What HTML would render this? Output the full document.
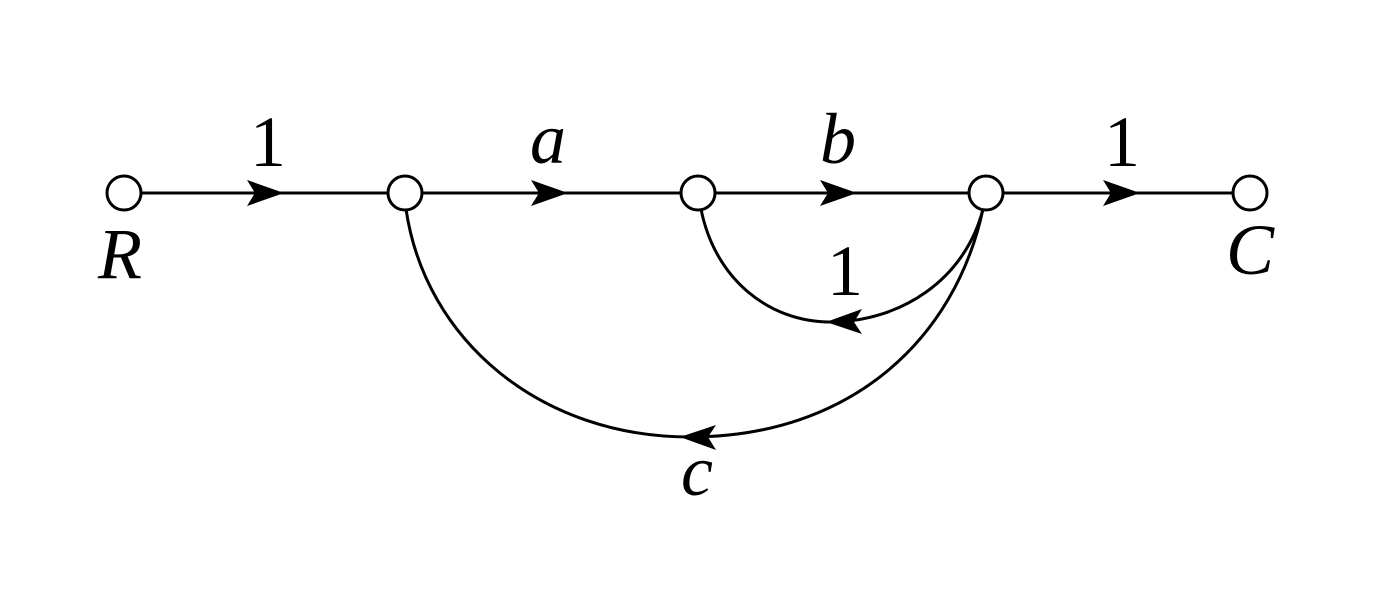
<!DOCTYPE html>
<html><head><style>body{margin:0;background:#fff}svg{display:block}
text{font-family:"Liberation Serif","DejaVu Serif",serif;font-size:72px}
.i{font-style:italic}</style></head><body>
<svg width="1385" height="594" viewBox="0 0 1385 594" xmlns="http://www.w3.org/2000/svg">
<g stroke="#000" stroke-width="3" fill="none">
<line x1="141" y1="193" x2="388" y2="193"/>
<line x1="422" y1="193" x2="681" y2="193"/>
<line x1="715" y1="193" x2="969" y2="193"/>
<line x1="1003" y1="193" x2="1233" y2="193"/>
<path d="M701,209 C715,280 770,322 830,322"/>
<path d="M983,209 C965,280 900,322 830,322"/>
<path d="M406,209 C425,340 540,437 690,437"/>
<path d="M983,209 C955,340 850,437 690,437"/>
<circle cx="124" cy="193" r="17" fill="#fff"/>
<circle cx="405" cy="193" r="17" fill="#fff"/>
<circle cx="698" cy="193" r="17" fill="#fff"/>
<circle cx="986" cy="193" r="17" fill="#fff"/>
<circle cx="1250" cy="193" r="17" fill="#fff"/>
</g>
<g fill="#000">
<path d="M284,193 L247,180 L255,193 L247,206 Z"/>
<path d="M568,193 L531,180 L539,193 L531,206 Z"/>
<path d="M857,193 L820,180 L828,193 L820,206 Z"/>
<path d="M1140,193 L1103,180 L1111,193 L1103,206 Z"/>
<path d="M826,322 L862,309 L854,322 L862,334 Z"/>
<path d="M680,437 L716,425 L708,437 L716,450 Z"/>
</g>
<g text-anchor="middle">
<text x="268" y="166">1</text>
<text x="1122" y="166">1</text>
<text x="845" y="295">1</text>
<text class="i" x="548" y="163">a</text>
<text class="i" x="838" y="163">b</text>
<text class="i" x="120" y="278">R</text>
<text class="i" x="1250" y="274">C</text>
<text class="i" x="697" y="495">c</text>
</g>
</svg>
</body></html>
